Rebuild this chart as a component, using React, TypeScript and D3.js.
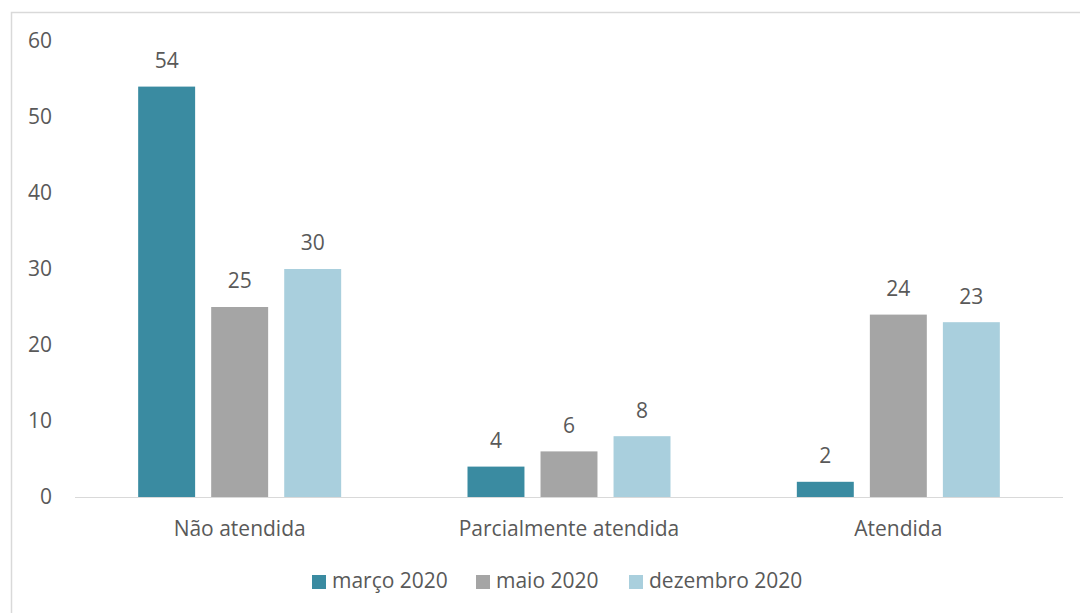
import React from "react";
import * as d3 from "d3";

const categories = ["Não atendida", "Parcialmente atendida", "Atendida"];
const seriesNames = ["março 2020", "maio 2020", "dezembro 2020"];
const marco2020 = [54, 4, 2];
const maio2020 = [25, 6, 24];
const dezembro2020 = [30, 8, 23];
const yTicks = [0, 10, 20, 30, 40, 50, 60];
const colors = ["#3a8ba1", "#a5a5a5", "#a9cfdd"];

const W = 1080;
const H = 613;
const FONT = "'Open Sans', 'Noto Sans', sans-serif";
const TXT = "#595959";
const FS = 21;

export default function App() {
  const seriesValues = [marco2020, maio2020, dezembro2020];
  const x0 = d3.scaleBand<string>().domain(categories).range([75, 1063]).padding(0);
  const groupW = 203;
  const x1 = d3.scaleBand<string>().domain(seriesNames).range([0, groupW]).paddingInner(0.22).paddingOuter(0);
  const y = d3.scaleLinear().domain([0, 60]).range([497, 41]);
  const legendX = [312, 476, 629];

  return (
    <svg width={W} height={H} style={{ position: "absolute", left: 0, top: 0 }} fontFamily={FONT}>
      <rect x={0} y={0} width={W} height={H} fill="#fff" />
      <rect x={11.5} y={12.5} width={W + 20} height={H + 20} fill="none" stroke="#d9d9d9" strokeWidth={1.5} />
      {yTicks.map((t) => (
        <text key={t} x={52} y={y(t)} dy="0.35em" textAnchor="end" fontSize={FS} fill={TXT}>
          {t}
        </text>
      ))}
      <line x1={75} x2={1063} y1={y(0) + 0.5} y2={y(0) + 0.5} stroke="#d9d9d9" strokeWidth={1} />
      {categories.map((c, ci) => {
        const gx = (x0(c) as number) + (x0.bandwidth() - groupW) / 2;
        return (
          <g key={c}>
            {seriesNames.map((s, si) => {
              const v = seriesValues[si][ci];
              const bx = gx + (x1(s) as number);
              return (
                <g key={s}>
                  <rect x={bx} y={y(v)} width={x1.bandwidth()} height={y(0) - y(v)} fill={colors[si]} />
                  <text x={bx + x1.bandwidth() / 2} y={y(v) - 26} dy="0.35em" textAnchor="middle" fontSize={FS} fill={TXT}>
                    {v}
                  </text>
                </g>
              );
            })}
            <text x={(x0(c) as number) + x0.bandwidth() / 2} y={529} dy="0.35em" textAnchor="middle" fontSize={FS} fill={TXT}>
              {c}
            </text>
          </g>
        );
      })}
      {seriesNames.map((s, si) => {
        const lx = legendX[si];
        return (
          <g key={s}>
            <rect x={lx} y={575} width={14} height={14} fill={colors[si]} />
            <text x={lx + 20} y={581} dy="0.35em" fontSize={FS} fill={TXT}>
              {s}
            </text>
          </g>
        );
      })}
    </svg>
  );
}
